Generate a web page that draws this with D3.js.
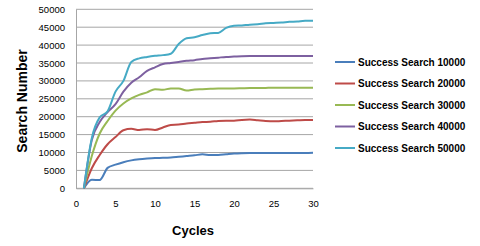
<!DOCTYPE html>
<html>
<head>
<meta charset="utf-8">
<script src="https://cdnjs.cloudflare.com/ajax/libs/d3/7.8.5/d3.min.js"></script>
<style>
  body { margin: 0; background: #fff; }
  text { font-family: "Liberation Sans", Arial, sans-serif; fill: #000; }
</style>
</head>
<body>
<svg id="chart" width="480" height="246"></svg>
<script>
// data
const cycles = d3.range(1, 31);
const search10000 = [0, 2400, 2300, 5700, 6600, 7300, 7800, 8100, 8300, 8450, 8500, 8600, 8800, 9000, 9200, 9500, 9300, 9300, 9500, 9700, 9800, 9850, 9850, 9850, 9850, 9850, 9850, 9850, 9850, 9900];
const search20000 = [0, 5600, 9300, 12300, 14300, 16200, 16600, 16300, 16500, 16300, 17000, 17700, 17800, 18100, 18300, 18500, 18600, 18800, 18900, 18900, 19100, 19200, 19000, 18800, 18700, 18800, 18900, 19000, 19100, 19100];
const search30000 = [0, 9000, 15300, 18800, 21700, 23700, 25100, 26100, 26800, 27700, 27500, 27900, 27900, 27300, 27600, 27700, 27800, 27900, 27900, 27900, 27950, 28000, 28000, 28050, 28100, 28100, 28100, 28100, 28100, 28100];
const search40000 = [0, 13500, 18500, 21300, 23500, 27000, 29500, 31000, 32800, 33800, 34700, 35000, 35300, 35600, 35800, 36100, 36300, 36500, 36700, 36800, 36900, 36950, 36950, 36950, 36950, 36950, 36950, 36950, 36950, 36950];
const search50000 = [0, 14000, 19800, 21500, 27000, 30000, 35300, 36300, 36700, 37000, 37200, 37600, 40300, 41900, 42200, 42800, 43300, 43400, 44800, 45400, 45500, 45700, 45800, 46100, 46200, 46300, 46500, 46600, 46800, 46800];

const seriesNames = ["Success Search 10000", "Success Search 20000", "Success Search 30000", "Success Search 40000", "Success Search 50000"];
const seriesValues = [search10000, search20000, search30000, search40000, search50000];
const colors = ["#4a7ebb", "#be4b48", "#98b954", "#7d60a0", "#46aac5"];
const xTicks = [0, 5, 10, 15, 20, 25, 30];
const yTicks = d3.range(0, 50001, 5000);

const svg = d3.select("#chart");

// plot area
const x = d3.scaleLinear().domain([0, 30]).range([76, 313]);
const y = d3.scaleLinear().domain([0, 50000]).range([188.3, 9.3]);

// gridlines
svg.append("g")
  .selectAll("line")
  .data(yTicks)
  .join("line")
    .attr("x1", x(0))
    .attr("x2", x(30))
    .attr("y1", d => y(d))
    .attr("y2", d => y(d))
    .attr("stroke", "#a6a6a6")
    .attr("stroke-width", 1);

// y axis
const yAxis = svg.append("g")
  .attr("transform", `translate(${x(0)},0)`)
  .call(d3.axisLeft(y).tickValues(yTicks).tickSize(0).tickPadding(11).tickFormat(d3.format("d")));
yAxis.select(".domain").attr("stroke", "#a6a6a6");
yAxis.selectAll("text").style("font-size", "9.5px").attr("fill", "#000");

// x axis
const xAxis = svg.append("g")
  .attr("transform", `translate(0,${y(0)})`)
  .call(d3.axisBottom(x).tickValues(xTicks).tickSize(0).tickPadding(12));
xAxis.select(".domain").attr("stroke", "#a6a6a6");
xAxis.selectAll("text").style("font-size", "9.5px").attr("fill", "#000");

// lines
const line = d3.line()
  .x((d, i) => x(cycles[i]))
  .y(d => y(d))
  .curve(d3.curveMonotoneX);

svg.append("g")
  .selectAll("path")
  .data(seriesValues)
  .join("path")
    .attr("d", line)
    .attr("fill", "none")
    .attr("stroke", (d, i) => colors[i])
    .attr("stroke-width", 2);

// axis titles
svg.append("text")
  .attr("x", 193)
  .attr("y", 235)
  .attr("text-anchor", "middle")
  .style("font-size", "13px")
  .style("font-weight", "bold")
  .text("Cycles");

svg.append("text")
  .attr("transform", "translate(27,101) rotate(-90)")
  .attr("text-anchor", "middle")
  .style("font-size", "14px")
  .style("font-weight", "bold")
  .text("Search Number");

// legend
const legend = svg.append("g")
  .selectAll("g")
  .data(seriesNames)
  .join("g")
    .attr("transform", (d, i) => `translate(335,${62 + i * 21.5})`);

legend.append("line")
  .attr("x1", 0)
  .attr("x2", 20)
  .attr("stroke", (d, i) => colors[i])
  .attr("stroke-width", 2);

legend.append("text")
  .attr("x", 23)
  .attr("dy", "0.35em")
  .style("font-size", "10px")
  .style("font-weight", "bold")
  .text(d => d);
</script>
</body>
</html>
